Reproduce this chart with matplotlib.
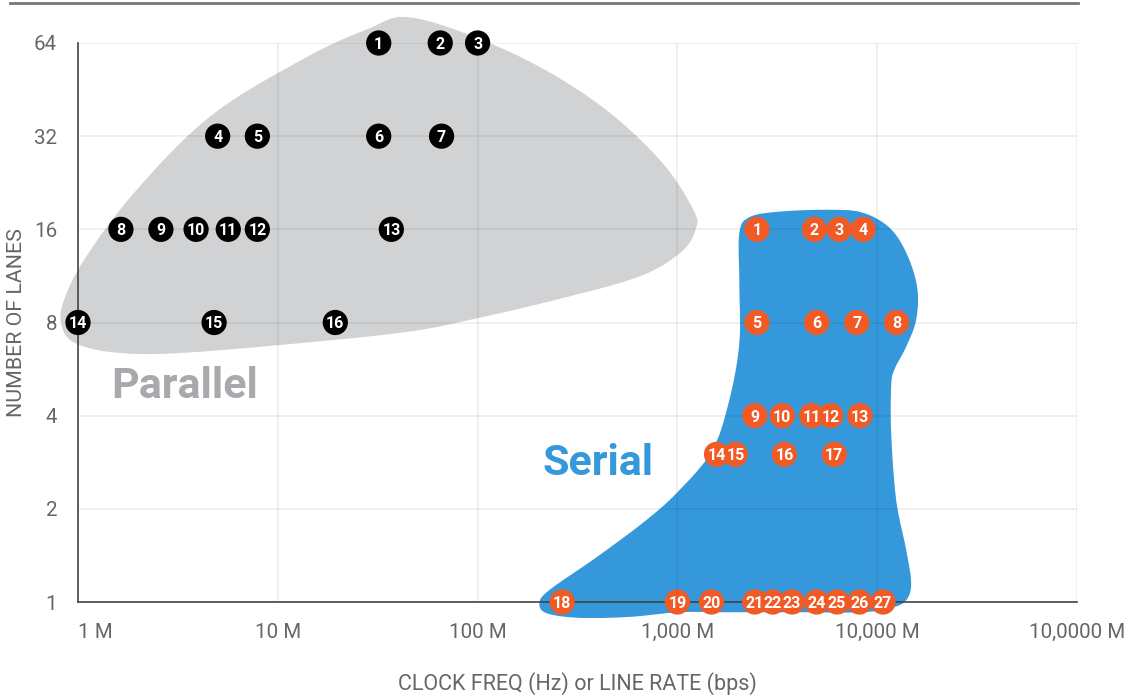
import numpy as np
import matplotlib
matplotlib.use('Agg')
import matplotlib.pyplot as plt
from matplotlib.patches import Polygon
from matplotlib.lines import Line2D

plt.rcParams['font.family'] = ['Roboto', 'DejaVu Sans']

# Parallel interfaces: clock freq (MHz) and number of lanes
par_freq_mhz = [32, 65, 100, 5.0, 7.9, 32, 66, 1.64, 2.6, 3.9, 5.65, 7.9, 37, 1.0, 4.8, 19.4]
par_lanes = [64, 64, 64, 32, 32, 32, 32, 16, 16, 16, 16, 16, 16, 8, 8, 8]

# Serial interfaces: line rate (MHz) and number of lanes
ser_freq_mhz = [2500, 4850, 6450, 8500,
                2500, 4980, 7900, 12500,
                2440, 3350, 4700, 5850, 8200,
                1570, 1950, 3430, 6100,
                265, 1000, 1480, 2440, 3000, 3750, 4970, 6300, 8150, 10700]
ser_lanes = [16, 16, 16, 16,
             8, 8, 8, 8,
             4, 4, 4, 4, 4,
             3, 3, 3, 3,
             1, 1, 1, 1, 1, 1, 1, 1, 1, 1]

x_ticks = [1e6, 1e7, 1e8, 1e9, 1e10, 1e11]
x_labels = ['1 M', '10 M', '100 M', '1,000 M', '10,000 M', '10,0000 M']
y_ticks = [1, 2, 4, 8, 16, 32, 64]

# region outlines as (log10 Hz, log2 lanes)
parallel_outline = [(7.68, 6.27), (8.175, 5.89), (8.595, 5.36), (8.91, 4.75), (9.08, 4.21),
                    (9.09, 3.99), (9.015, 3.75), (8.805, 3.49), (8.385, 3.24), (7.965, 3.03),
                    (7.65, 2.90), (7.12, 2.78), (6.49, 2.67), (6.175, 2.68), (5.985, 2.78),
                    (5.92, 2.95), (5.925, 3.21), (6.03, 3.67), (6.28, 4.39), (6.66, 5.21),
                    (7.12, 5.82), (7.44, 6.14)]
serial_outline = [(9.31, 3.96), (9.36, 4.13), (9.51, 4.19), (9.76, 4.21), (9.925, 4.18),
                  (10.06, 4.02), (10.145, 3.75), (10.2, 3.38), (10.195, 3.03), (10.145, 2.74),
                  (10.085, 2.49), (10.07, 2.31), (10.07, 1.81), (10.095, 1.095), (10.145, 0.56),
                  (10.17, 0.20), (10.145, 0.02), (10.075, -0.06), (9.925, -0.11), (9.595, -0.11),
                  (9.26, -0.11), (9.01, -0.11), (8.76, -0.16), (8.51, -0.17), (8.345, -0.12),
                  (8.31, -0.01), (8.36, 0.13), (8.595, 0.48), (8.845, 0.88), (9.01, 1.20),
                  (9.175, 1.63), (9.26, 2.17), (9.31, 2.78), (9.31, 3.42)]


def smooth_closed(pts, n=12):
    # closed Catmull-Rom curve through the outline points
    p = np.array(pts)
    out = []
    m = len(p)
    for i in range(m):
        p0, p1, p2, p3 = p[i - 1], p[i], p[(i + 1) % m], p[(i + 2) % m]
        for t in np.linspace(0, 1, n, endpoint=False):
            t2, t3 = t * t, t * t * t
            out.append(0.5 * ((2 * p1) + (-p0 + p2) * t + (2 * p0 - 5 * p1 + 4 * p2 - p3) * t2
                              + (-p0 + 3 * p1 - 3 * p2 + p3) * t3))
    out = np.array(out)
    return np.column_stack([10 ** out[:, 0], 2 ** out[:, 1]])


fig = plt.figure(figsize=(11.25, 6.96), dpi=100)
ax = fig.add_axes([78 / 1125, 1 - 602 / 696, 999 / 1125, 559 / 696])
ax.set_xscale('log')
ax.set_yscale('log', base=2)
ax.set_xlim(1e6, 1e11)
ax.set_ylim(1, 64)

ax.add_patch(Polygon(smooth_closed(parallel_outline), closed=True, facecolor='#d1d2d4',
                     edgecolor='none', zorder=1, clip_on=False))
ax.add_patch(Polygon(smooth_closed(serial_outline), closed=True, facecolor='#3498db',
                     edgecolor='none', zorder=1, clip_on=False))

ax.set_axisbelow(False)
ax.grid(True, which='major', color='black', alpha=0.08, linewidth=1.1, zorder=2)
ax.minorticks_off()

par_x = np.array(par_freq_mhz) * 1e6
ser_x = np.array(ser_freq_mhz) * 1e6
ax.scatter(par_x, par_lanes, s=330, color='black', edgecolors='none', zorder=4, clip_on=False)
ax.scatter(ser_x, ser_lanes, s=330, color='#f15a24', edgecolors='none', zorder=4, clip_on=False)
for i, (x, y) in enumerate(zip(par_x, par_lanes)):
    ax.text(x, y, str(i + 1), ha='center', va='center_baseline', color='white', fontsize=11.5,
            fontweight='bold', zorder=5, clip_on=False)
for i, (x, y) in enumerate(zip(ser_x, ser_lanes)):
    ax.text(x, y, str(i + 1), ha='center', va='center_baseline', color='white', fontsize=11.5,
            fontweight='bold', zorder=5, clip_on=False)

ax.text(3.4e6, 4.96, 'Parallel', color='#a7a9ac', fontsize=31, fontweight='bold',
        ha='center', va='center')
ax.text(4.03e8, 2.81, 'Serial', color='#3498db', fontsize=31, fontweight='bold',
        ha='center', va='center')

ax.set_xticks(x_ticks)
ax.set_xticklabels(x_labels)
ax.set_yticks(y_ticks)
ax.set_yticklabels([str(v) for v in y_ticks])
ax.tick_params(axis='both', length=0, labelsize=14.8, labelcolor='#666666')
ax.tick_params(axis='x', pad=15)
ax.tick_params(axis='y', pad=15)
ax.get_xticklabels()[0].set_ha('left')

for s in ['top', 'right']:
    ax.spines[s].set_visible(False)
for s in ['left', 'bottom']:
    ax.spines[s].set_color('#444444')
    ax.spines[s].set_linewidth(1.2)
    ax.spines[s].set_zorder(3)

ax.set_xlabel('CLOCK FREQ (Hz) or LINE RATE (bps)', fontsize=15.5, color='#666666')
ax.xaxis.set_label_coords(0.5, -70 / 559)
ax.set_ylabel('NUMBER OF LANES', fontsize=15.4, color='#666666')
ax.yaxis.set_label_coords(-52 / 999, 0.5)

fig.add_artist(Line2D([10 / 1125, 1078 / 1125], [1 - 3 / 696, 1 - 3 / 696],
                      color='#777777', linewidth=2, transform=fig.transFigure))

fig.savefig('out.png', dpi=100)
